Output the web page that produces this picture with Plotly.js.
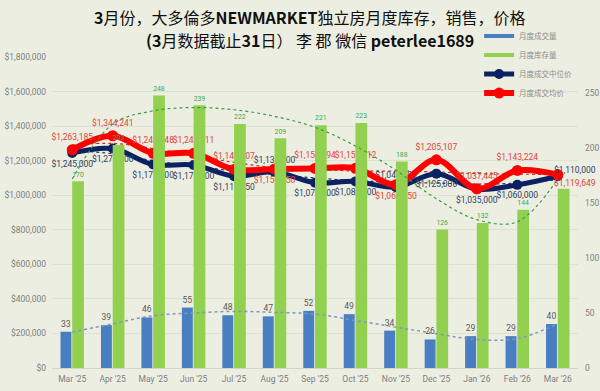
<!DOCTYPE html>
<html>
<head>
<meta charset="utf-8">
<script src="https://cdn.plot.ly/plotly-3.0.1.min.js"></script>
<style>html,body{margin:0;padding:0;background:#ECEEE2;}#chart{width:600px;height:391px;}</style>
</head>
<body>
<div id="chart"></div>
<script>
const months = ["Mar '25","Apr '25","May '25","Jun '25","Jul '25","Aug '25","Sep '25","Oct '25","Nov '25","Dec '25","Jan '26","Feb '26","Mar '26"];
const sales = [33,39,46,55,48,47,52,49,34,26,29,29,40];
const inventory = [170,203,248,239,222,209,221,223,188,126,132,144,163];
const medianPrice = [1245000,1270000,1177500,1175000,1110250,1135000,1072500,1080000,1046800,1125000,1035000,1060000,1110000];
const avgPrice = [1263185,1344241,1242848,1242511,1149507,1151850,1154794,1155912,1061050,1205107,1037445,1143224,1119649];
// dotted trendlines
const salesTrend = [32.7,40.2,47.6,50,51.5,50.6,49.1,43.2,37.2,31.2,25.9,26.8,40.2];
const inventoryTrend = [172,222,234,237,235,229,219,202,180,154,135,133,172];
const avgTrend = [1290000,1300000,1270000,1230000,1190000,1160000,1150000,1140000,1140000,1135000,1125000,1122000,1120000];
const medianTrend = [1260000,1240000,1200000,1170000,1140000,1120000,1100000,1085000,1075000,1070000,1065000,1070000,1090000];
const seriesNames = ["月度成交量","月度库存量","月度成交中位价","月度成交均价"];
const titleLines = ['<b>3</b>月份，大多倫多<b>NEWMARKET</b>独立房月度库存，销售，价格',
                    '<b>(3</b>月数据截止<b>31</b>日） 李 郡 微信 <b>peterlee1689</b>'];

const labelFont = 'Liberation Sans Narrow, Roboto, sans-serif';
const cjk = 'Noto Sans CJK SC, sans-serif';
const blue = '#4A7EC2', green = '#92D050', navy = '#0B2262', red = '#FF0000';
const last = months.length - 1;
const money = v => '$' + v.toLocaleString('en-US');

const medPos = ['bottom center','bottom center','bottom center','bottom center','bottom center','top center','bottom center','bottom center','top center','bottom center','bottom center','bottom center','top center'];
const avgPos = ['top center','top center','top center','top center','top center','bottom center','top center','top center','bottom center','top center','top center','top center','top center'];
const medText = medianPrice.map((v,i)=> i===last ? '' : money(v));
const avgText = avgPrice.map((v,i)=> i===last ? '' : money(v));
const invText = inventory.map((v,i)=> i===last ? '' : String(v));

const traces = [
  {type:'bar', x:months, y:sales, yaxis:'y2', name:seriesNames[0], showlegend:false,
   marker:{color:blue}, width:0.27, offset:-0.29,
   text:sales.map(String), textposition:'outside', cliponaxis:false,
   textfont:{family:labelFont, size:8.5, color:'#595959'}, hoverinfo:'skip'},
  {type:'bar', x:months, y:inventory, yaxis:'y2', name:seriesNames[1], showlegend:false,
   marker:{color:green}, width:0.29, offset:0.0,
   text:invText, textposition:'outside', cliponaxis:false,
   textfont:{family:labelFont, size:8.5, color:'#3BAA4F'}, hoverinfo:'skip'},
  {type:'scatter', mode:'lines', x:months, y:salesTrend, yaxis:'y2', showlegend:false,
   line:{color:'#7F97BF', width:1.5, dash:'dot', shape:'spline'}, hoverinfo:'skip'},
  {type:'scatter', mode:'lines', x:months, y:inventoryTrend, yaxis:'y2', showlegend:false,
   line:{color:'#3C9A48', width:1.2, dash:'dot', shape:'spline'}, hoverinfo:'skip'},
  {type:'scatter', mode:'lines', x:months, y:medianTrend, showlegend:false,
   line:{color:'#2A3A66', width:1.2, dash:'dot', shape:'spline'}, hoverinfo:'skip'},
  {type:'scatter', mode:'lines', x:months, y:avgTrend, showlegend:false,
   line:{color:'#C0302A', width:1.2, dash:'dot', shape:'spline'}, hoverinfo:'skip'},
  {type:'scatter', mode:'lines+markers+text', x:months, y:medianPrice, name:seriesNames[2],
   legendgroup:'c', legendrank:3,
   line:{color:navy, width:5, shape:'spline'}, marker:{color:navy, size:10},
   text:medText, textposition:medPos, cliponaxis:false,
   textfont:{family:labelFont, size:8.5, color:'#33415F'}, hoverinfo:'skip'},
  {type:'scatter', mode:'lines+markers+text', x:months, y:avgPrice, name:seriesNames[3],
   legendgroup:'d', legendrank:4,
   line:{color:red, width:6, shape:'spline'}, marker:{color:red, size:11},
   text:avgText, textposition:avgPos, cliponaxis:false,
   textfont:{family:labelFont, size:8.5, color:'#E5423B'}, hoverinfo:'skip'},
  {type:'scatter', mode:'lines', x:[months[0]], y:[null], name:seriesNames[0], legendgroup:'a', legendrank:1,
   line:{color:blue, width:4}, hoverinfo:'skip'},
  {type:'scatter', mode:'lines', x:[months[0]], y:[null], name:seriesNames[1], legendgroup:'b', legendrank:2,
   line:{color:green, width:4}, hoverinfo:'skip'}
];

const rightEdge = (598 - 52) / 526;
const annotations = [
  {xref:'paper', yref:'paper', x:0.4905, y:1.1286, xanchor:'center', yanchor:'middle', showarrow:false,
   text:titleLines[0], font:{family:cjk, size:16, color:'#111111'}},
  {xref:'paper', yref:'paper', x:0.4905, y:1.0547, xanchor:'center', yanchor:'middle', showarrow:false,
   text:titleLines[1], font:{family:cjk, size:16, color:'#111111'}},
  {xref:'paper', yref:'y', x:rightEdge, y:medianPrice[last], xanchor:'right', yanchor:'middle', yshift:6,
   showarrow:false, text:money(medianPrice[last]), font:{family:labelFont, size:8.5, color:'#33415F'}},
  {xref:'paper', yref:'y', x:rightEdge, y:avgPrice[last], xanchor:'right', yanchor:'middle', yshift:-8,
   showarrow:false, text:money(avgPrice[last]), font:{family:labelFont, size:8.5, color:'#E5423B'}}
];

const layout = {
  width:600, height:391,
  margin:{l:52, r:22, t:57, b:23, pad:0},
  paper_bgcolor:'#ECEEE2', plot_bgcolor:'#ECEEE2',
  annotations:annotations,
  showlegend:true,
  legend:{x:0.812, xanchor:'left', y:1.114, yanchor:'top', bgcolor:'rgba(0,0,0,0)',
    font:{family:cjk, size:7.5, color:'#8C8C8C'}, traceorder:'grouped', tracegroupgap:0, itemwidth:30},
  barmode:'overlay',
  xaxis:{type:'category', range:[-0.5,12.5], showgrid:false, showline:true, linecolor:'#D3D5C7', linewidth:1,
    ticks:'', ticklabelstandoff:3, tickfont:{family:labelFont, size:8.5, color:'#7F7F7F'}},
  yaxis:{range:[0,1800000], tickvals:[0,200000,400000,600000,800000,1000000,1200000,1400000,1600000,1800000],
    tickformat:'$,.0f', showgrid:true, gridcolor:'#DEE0D2', zeroline:false, ticks:'', ticklabelstandoff:5,
    tickfont:{family:labelFont, size:8.5, color:'#7F7F7F'}},
  yaxis2:{range:[0,283], dtick:50, overlaying:'y', side:'right', showgrid:false, zeroline:false, ticks:'', ticklabelstandoff:6,
    tickfont:{family:labelFont, size:8.5, color:'#7F7F7F'}}
};

Plotly.newPlot('chart', traces, layout, {displayModeBar:false, staticPlot:true});
</script>
</body>
</html>
